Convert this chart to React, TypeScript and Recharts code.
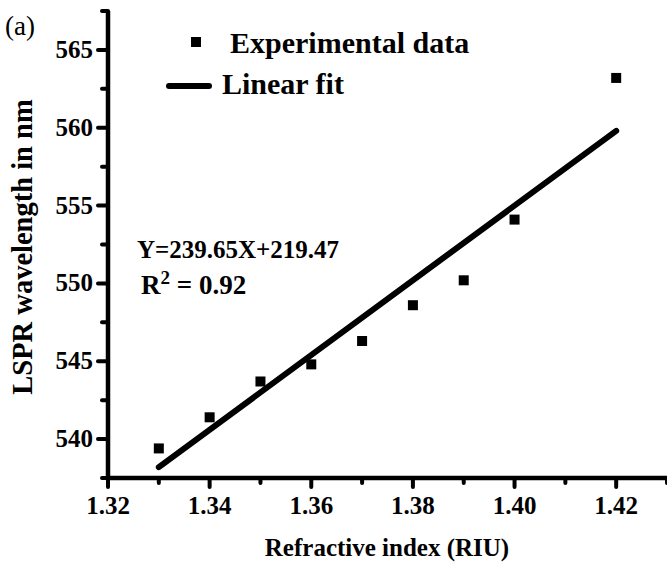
import React from "react";
import { ComposedChart, XAxis, YAxis, Scatter, Line } from "recharts";

const refractiveIndex = [1.33, 1.34, 1.35, 1.36, 1.37, 1.38, 1.39, 1.4, 1.42];
const lsprWavelength = [539.4, 541.4, 543.7, 544.8, 546.3, 548.6, 550.2, 554.1, 563.2];
const fitX = [1.33, 1.42];
const fitY = [538.2, 559.8];
const xTicks = [1.32, 1.33, 1.34, 1.35, 1.36, 1.37, 1.38, 1.39, 1.4, 1.41, 1.42, 1.43];
const yTicks = [537.5, 540, 542.5, 545, 547.5, 550, 552.5, 555, 557.5, 560, 562.5, 565, 567.5];

const expData = refractiveIndex.map((x, i) => ({ x, y: lsprWavelength[i] }));
const fitData = fitX.map((x, i) => ({ x, y: fitY[i] }));

const FONT = "'Liberation Serif', 'Times New Roman', serif";

const renderXTick = (props: any) => {
  const { x, y, payload } = props;
  const v = payload.value;
  const major = Math.round(v * 100) % 2 === 0;
  return (
    <g key={`xt-${v}`}>
      <line x1={x} x2={x} y1={y} y2={y + (major ? 9 : 5)} stroke="#000" strokeWidth={4} strokeLinecap="round" />
      {major && (
        <text x={x} y={y + 36} textAnchor="middle" fontFamily={FONT} fontWeight={700} fontSize={25} fill="#000">
          {v.toFixed(2)}
        </text>
      )}
    </g>
  );
};

const renderYTick = (props: any) => {
  const { x, y, payload } = props;
  const v = payload.value;
  const major = Math.abs(v % 5) < 1e-6;
  return (
    <g key={`yt-${v}`}>
      <line x1={x} x2={x - (major ? 10 : 6)} y1={y} y2={y} stroke="#000" strokeWidth={4} strokeLinecap="round" />
      {major && (
        <text x={x - 15} y={y + 8} textAnchor="end" fontFamily={FONT} fontWeight={700} fontSize={25} fill="#000">
          {v}
        </text>
      )}
    </g>
  );
};

const Square = (props: any) => {
  const { cx, cy } = props;
  if (cx == null || cy == null) return null;
  return <rect x={cx - 5} y={cy - 5} width={10} height={10} fill="#000" />;
};

export default function App() {
  return (
    <div style={{ position: "absolute", left: 0, top: 0, width: 667, height: 563, overflow: "hidden", background: "#fff" }}>
      <ComposedChart width={670} height={563} margin={{ top: 11, right: 3, bottom: 0, left: 0 }}>
        <XAxis
          dataKey="x"
          type="number"
          domain={[1.32, 1.43]}
          ticks={xTicks}
          tick={renderXTick}
          tickLine={false}
          tickSize={0}
          tickMargin={0}
          height={85}
          axisLine={{ stroke: "#000", strokeWidth: 4.5 }}
          allowDataOverflow
          interval={0}
        />
        <YAxis
          type="number"
          domain={[537.5, 567.5]}
          ticks={yTicks}
          tick={renderYTick}
          tickLine={false}
          tickSize={0}
          tickMargin={0}
          width={108}
          axisLine={{ stroke: "#000", strokeWidth: 4.5 }}
          allowDataOverflow
          interval={0}
        />
        <Line
          data={fitData}
          dataKey="y"
          type="linear"
          stroke="#000"
          strokeWidth={6}
          strokeLinecap="round"
          dot={false}
          activeDot={false}
          isAnimationActive={false}
        />
        <Scatter data={expData} dataKey="y" fill="#000" shape={<Square />} isAnimationActive={false} />
        <text x={5} y={35} fontFamily={FONT} fontSize={27} fill="#000">(a)</text>
        <rect x={191} y={37} width={10} height={10} fill="#000" />
        <text x={230} y={53} fontFamily={FONT} fontWeight="bold" fontSize={30} fill="#000">Experimental data</text>
        <line x1={169} x2={209} y1={86} y2={86} stroke="#000" strokeWidth={6} strokeLinecap="round" />
        <text x={222} y={94} fontFamily={FONT} fontWeight="bold" fontSize={30} fill="#000">Linear fit</text>
        <text x={137} y={258} fontFamily={FONT} fontWeight="bold" fontSize={25} fill="#000">Y=239.65X+219.47</text>
        <text x={141} y={294} fontFamily={FONT} fontWeight="bold" fontSize={27} fill="#000">
          R<tspan fontSize={19} dy={-10}>2</tspan><tspan dy={10}> = 0.92</tspan>
        </text>
        <text x={32} y={247} transform="rotate(-90 32 247)" textAnchor="middle" fontFamily={FONT} fontWeight="bold" fontSize={28.5} fill="#000">
          LSPR wavelength in nm
        </text>
        <text x={387} y={556} textAnchor="middle" fontFamily={FONT} fontWeight="bold" fontSize={25} fill="#000">
          Refractive index (RIU)
        </text>
      </ComposedChart>
    </div>
  );
}
